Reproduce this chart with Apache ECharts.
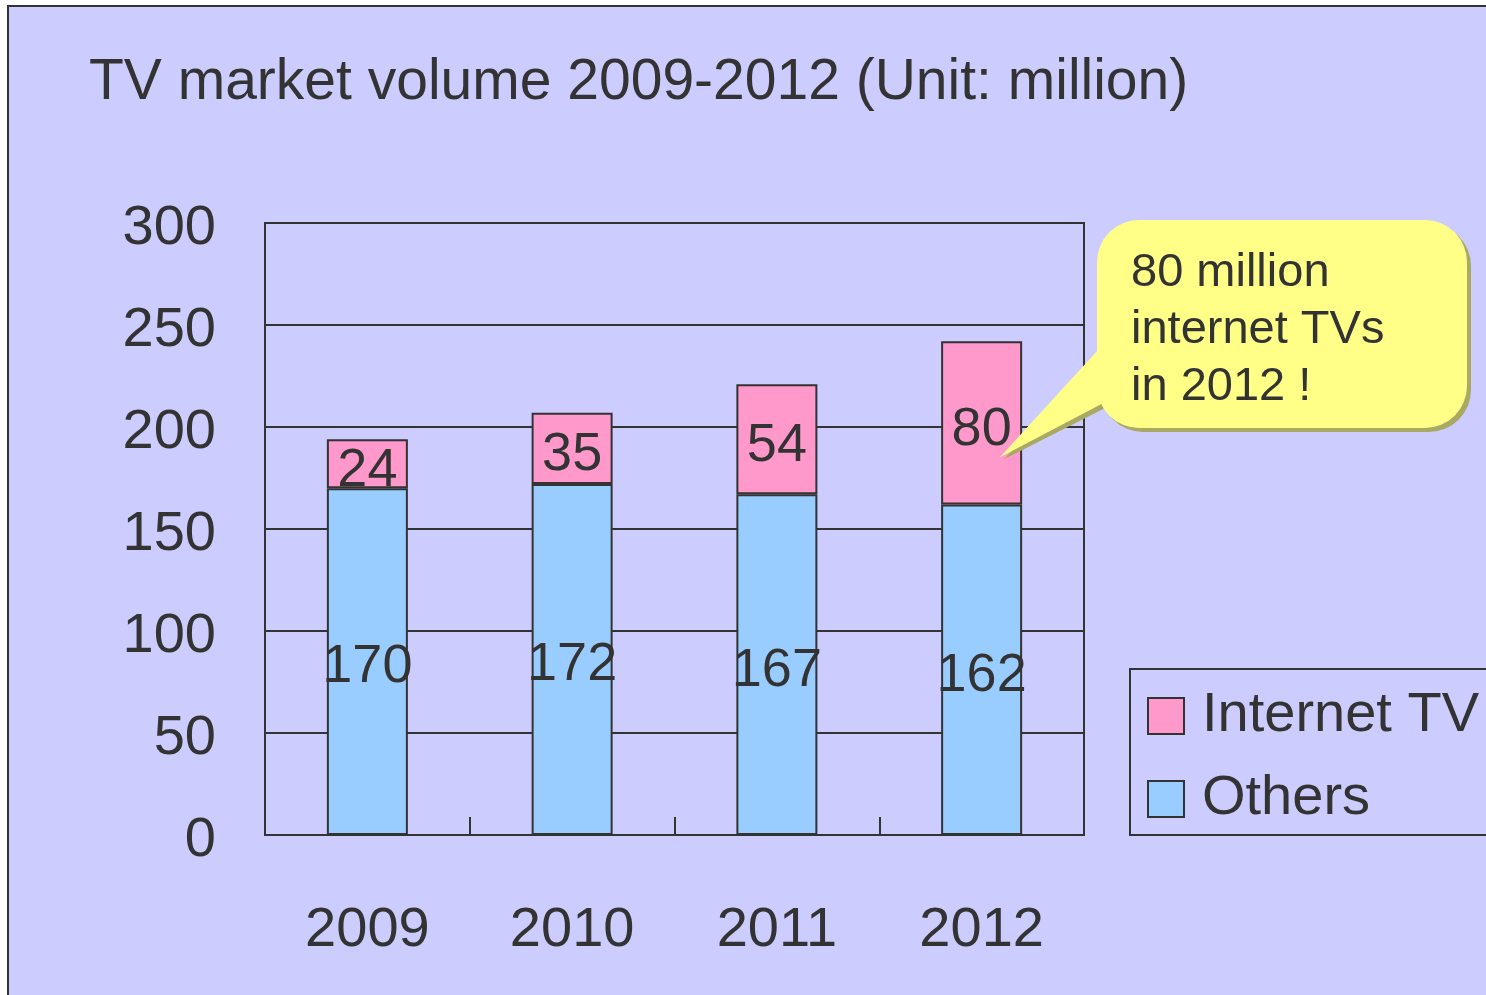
<!DOCTYPE html>
<html>
<head>
<meta charset="utf-8">
<script src="https://cdn.jsdelivr.net/npm/echarts@6/dist/echarts.min.js"></script>
<style>
  html, body { margin: 0; padding: 0; background: #fff; }
  #main { width: 1486px; height: 995px; }
</style>
</head>
<body>
<div id="main"></div>
<script>
// 数据
const years = ['2009', '2010', '2011', '2012'];
const othersData = [170, 172, 167, 162];
const internetData = [24, 35, 54, 80];
const yTicks = [0, 50, 100, 150, 200, 250, 300];
const calloutLines = ['80 million', 'internet TVs', 'in 2012 !'];

const FONT = '"Liberation Sans", Arial, sans-serif';
const TEXT = '#333333';

const chart = echarts.init(document.getElementById('main'));

const option = {
    backgroundColor: '#ffffff',
    animation: false,
    textStyle: { fontFamily: FONT, color: TEXT },
    title: {
        text: 'TV market volume 2009-2012 (Unit: million)',
        left: 84,
        top: 50,
        textStyle: { fontSize: 57, fontWeight: 'normal', color: TEXT, fontFamily: FONT }
    },
    grid: {
        left: 265,
        top: 223,
        width: 819,
        height: 612,
        show: true,
        borderColor: '#333',
        borderWidth: 2
    },
    legend: {
        data: ['Internet TV', 'Others'],
        orient: 'vertical',
        left: 1130,
        top: 669,
        padding: [19, 20, 8, 17],
        itemWidth: 36,
        itemHeight: 36,
        itemGap: 27,
        borderColor: '#333',
        borderWidth: 2,
        icon: 'rect',
        textStyle: {
            fontSize: 56,
            lineHeight: 56,
            color: TEXT,
            fontFamily: FONT,
            padding: [0, 0, 0, 13]
        }
    },
    xAxis: {
        type: 'category',
        data: years,
        axisLine: { show: true, lineStyle: { color: '#333', width: 2 } },
        axisTick: { show: true, inside: true, length: 18, lineStyle: { color: '#333', width: 2 } },
        axisLabel: { fontSize: 56, color: TEXT, margin: 68, fontFamily: FONT }
    },
    yAxis: {
        type: 'value',
        min: yTicks[0],
        max: yTicks[yTicks.length - 1],
        interval: 50,
        axisLine: { show: true, lineStyle: { color: '#333', width: 2 } },
        axisTick: { show: true, inside: true, length: 16, lineStyle: { color: '#333', width: 2 } },
        axisLabel: {
            fontSize: 56, color: TEXT, margin: 49, fontFamily: FONT,
            verticalAlign: 'top', lineHeight: 12
        },
        splitLine: { lineStyle: { color: '#333', width: 2 } }
    },
    series: [
        {
            name: 'Others',
            type: 'bar',
            stack: 'total',
            barWidth: 81,
            data: othersData,
            itemStyle: { color: '#99CCFF', borderColor: '#333', borderWidth: 2 },
            label: { show: true, position: 'inside', fontSize: 54, color: TEXT, fontFamily: FONT, offset: [0, 6] }
        },
        {
            name: 'Internet TV',
            type: 'bar',
            stack: 'total',
            barWidth: 81,
            data: internetData,
            itemStyle: { color: '#FF99CC', borderColor: '#333', borderWidth: 2 },
            label: { show: true, position: 'inside', fontSize: 54, color: TEXT, fontFamily: FONT, offset: [0, 7] }
        }
    ]
};

chart.setOption(option);

// 气泡注释：尖端指向2012年的Internet TV柱
const tip = chart.convertToPixel({ xAxisIndex: 0, yAxisIndex: 0 }, ['2012', 185]);
const tipX = tip[0] + 18;
const tipY = tip[1];
const box = { x: 1097, y: 220, w: 370, h: 208 };
const sh = 4;

chart.setOption({
    graphic: [
        // 外框与背景
        {
            type: 'rect', z: -10, silent: true,
            shape: { x: 8, y: 6, width: 1500, height: 1000 },
            style: { fill: '#CCCCFF', stroke: '#333', lineWidth: 2 }
        },
        // 阴影
        {
            type: 'polygon', z: 20,
            shape: { points: [[box.x + 12 + sh, 338 + sh], [tipX + sh, tipY + sh - 2], [box.x + 12 + sh, 400 + sh]] },
            style: { fill: '#A9A963' }
        },
        {
            type: 'rect', z: 20,
            shape: { x: box.x + sh, y: box.y + sh, width: box.w, height: box.h, r: 42 },
            style: { fill: '#A9A963' }
        },
        // 气泡
        {
            type: 'polygon', z: 21,
            shape: { points: [[box.x + 12, 338], [tipX, tipY], [box.x + 12, 400]] },
            style: { fill: '#FFFF88' }
        },
        {
            type: 'rect', z: 21,
            shape: { x: box.x, y: box.y, width: box.w, height: box.h, r: 42 },
            style: { fill: '#FFFF88' }
        },
        {
            type: 'text', z: 22,
            left: 1131, top: 245,
            style: {
                text: calloutLines.join('\n'),
                font: '47px ' + FONT,
                lineHeight: 57,
                fill: TEXT
            }
        }
    ]
});

window.addEventListener('resize', function() {
    chart.resize();
});
</script>
</body>
</html>
